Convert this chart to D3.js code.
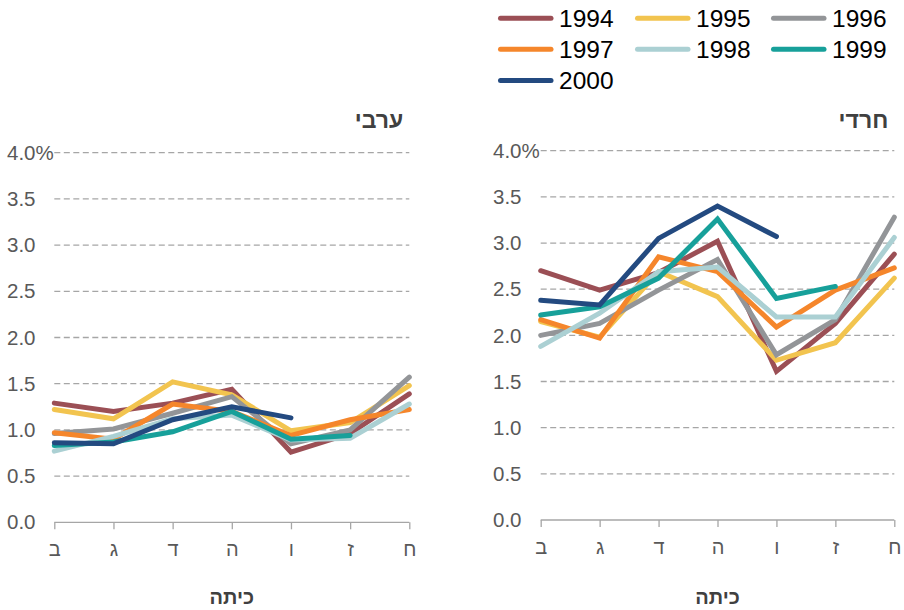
<!DOCTYPE html>
<html>
<head>
<meta charset="utf-8">
<script src="https://cdn.jsdelivr.net/npm/d3@7"></script>
<style>
  body { margin: 0; background: #fff; }
  svg { display: block; font-family: "Liberation Sans", Arial, sans-serif; }
</style>
</head>
<body>
<div id="chart"></div>
<script>
// Grades (x categories), left to right.
const grades = ["ב", "ג", "ד", "ה", "ו", "ז", "ח"];
const years = ["1994", "1995", "1996", "1997", "1998", "1999", "2000"];
const colors = ["#9b4f55", "#f2c44f", "#939598", "#f5862b", "#abd0d3", "#17a09a", "#234a80"];
const yTicks = [0, 0.5, 1, 1.5, 2, 2.5, 3, 3.5, 4];

// Arab sector (ערבי), per year, per grade. null = no value.
const arab1994 = [1.29, 1.20, 1.29, 1.44, 0.76, 0.96, 1.39];
const arab1995 = [1.22, 1.12, 1.52, 1.38, 0.99, 1.08, 1.48];
const arab1996 = [0.96, 1.01, 1.18, 1.36, 0.85, 1.00, 1.57];
const arab1997 = [0.97, 0.90, 1.28, 1.20, 0.94, 1.11, 1.22];
const arab1998 = [0.77, 0.93, 1.12, 1.16, 0.89, 0.91, 1.28];
const arab1999 = [0.83, 0.87, 0.98, 1.20, 0.90, 0.94, null];
const arab2000 = [0.86, 0.85, 1.11, 1.25, 1.13, null, null];

// Haredi sector (חרדי).
const haredi1994 = [2.70, 2.49, 2.68, 3.02, 1.61, 2.13, 2.88];
const haredi1995 = [2.15, 1.98, 2.69, 2.42, 1.73, 1.92, 2.62];
const haredi1996 = [2.00, 2.13, 2.49, 2.82, 1.79, 2.17, 3.28];
const haredi1997 = [2.17, 1.97, 2.85, 2.69, 2.09, 2.49, 2.73];
const haredi1998 = [1.88, 2.24, 2.69, 2.74, 2.20, 2.20, 3.06];
const haredi1999 = [2.22, 2.31, 2.62, 3.26, 2.40, 2.53, null];
const haredi2000 = [2.38, 2.33, 3.05, 3.40, 3.07, null, null];

const arab = [arab1994, arab1995, arab1996, arab1997, arab1998, arab1999, arab2000];
const haredi = [haredi1994, haredi1995, haredi1996, haredi1997, haredi1998, haredi1999, haredi2000];

const width = 904;
const height = 610;

const svg = d3.select("#chart").append("svg")
  .attr("width", width)
  .attr("height", height);

// Draw one panel.
function panel(title, series, x0, x1, yTop, yBottom, labelX) {
  const x = d3.scalePoint().domain(grades).range([x0, x1]).padding(0);
  const y = d3.scaleLinear().domain([0, 4]).range([yBottom, yTop]);
  const g = svg.append("g");

  // Gridlines.
  g.append("g")
    .selectAll("line")
    .data(yTicks.filter((d) => d > 0))
    .join("line")
    .attr("x1", x0)
    .attr("x2", x1)
    .attr("y1", (d) => y(d))
    .attr("y2", (d) => y(d))
    .attr("stroke", "#a6a6a6")
    .attr("stroke-width", 1.3)
    .attr("stroke-dasharray", "6,3.5");

  // Y tick labels, left aligned.
  g.append("g")
    .selectAll("text")
    .data(yTicks)
    .join("text")
    .attr("x", labelX)
    .attr("y", (d) => y(d))
    .attr("dy", "0.35em")
    .attr("font-size", 20.5)
    .attr("fill", "#595959")
    .text((d) => (d === 4 ? "4.0%" : d3.format(".1f")(d)));

  // X axis.
  const xAxis = g.append("g")
    .attr("transform", `translate(0,${yBottom})`)
    .call(d3.axisBottom(x).tickSize(7).tickPadding(13).tickSizeOuter(0));
  xAxis.select(".domain")
    .attr("d", `M${x0},0H${x1}`)
    .attr("stroke", "#a6a6a6")
    .attr("stroke-width", 1.3);
  xAxis.selectAll(".tick line").attr("stroke", "#a6a6a6").attr("stroke-width", 1.3);
  xAxis.selectAll(".tick text")
    .attr("font-size", 20)
    .attr("fill", "#595959")
    .attr("font-family", "\"Liberation Sans\", Arial, sans-serif");

  // Axis title.
  g.append("text")
    .attr("x", (x0 + x1) / 2)
    .attr("y", 597)
    .attr("dy", "0.35em")
    .attr("text-anchor", "middle")
    .attr("font-size", 20)
    .attr("font-weight", "bold")
    .attr("fill", "#404040")
    .text("כיתה");

  // Panel title.
  g.append("text")
    .attr("x", x1 - 6)
    .attr("y", 128)
    .attr("text-anchor", "end")
    .attr("font-size", 23)
    .attr("font-weight", "bold")
    .attr("fill", "#404040")
    .text(title);

  // Lines.
  const line = d3.line()
    .defined((d) => d != null)
    .x((d, i) => x(grades[i]))
    .y((d) => y(d));

  g.append("g")
    .selectAll("path")
    .data(series)
    .join("path")
    .attr("d", line)
    .attr("fill", "none")
    .attr("stroke", (d, i) => colors[i])
    .attr("stroke-width", 5)
    .attr("stroke-linecap", "round")
    .attr("stroke-linejoin", "miter");
}

panel("ערבי", arab, 54.3, 409.3, 152.7, 522.3, 7);
panel("חרדי", haredi, 540.7, 894.3, 150.7, 520, 493);

// Legend.
const legend = svg.append("g");
const legendCols = [498, 635, 771];
const legendRows = [18.3, 49.3, 80.5];
years.forEach((yr, i) => {
  const lx = legendCols[i % 3];
  const ly = legendRows[Math.floor(i / 3)];
  legend.append("line")
    .attr("x1", lx + 2.5)
    .attr("x2", lx + 53)
    .attr("y1", ly)
    .attr("y2", ly)
    .attr("stroke", colors[i])
    .attr("stroke-width", 5)
    .attr("stroke-linecap", "round");
  legend.append("text")
    .attr("x", lx + 61)
    .attr("y", ly)
    .attr("dy", "0.36em")
    .attr("font-size", 24.5)
    .attr("fill", "#000")
    .text(yr);
});
</script>
</body>
</html>
